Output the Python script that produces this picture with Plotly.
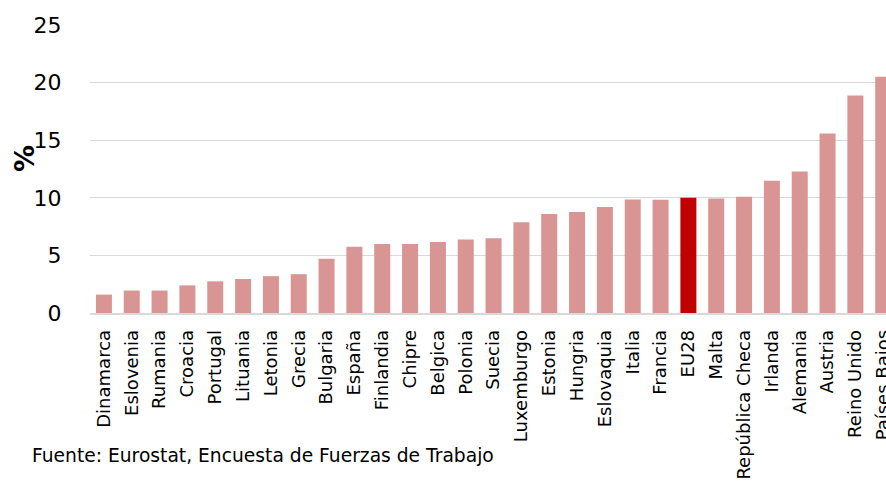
import plotly.graph_objects as go

countries = ["Dinamarca", "Eslovenia", "Rumania", "Croacia", "Portugal", "Lituania",
             "Letonia", "Grecia", "Bulgaria", "España", "Finlandia", "Chipre", "Belgica",
             "Polonia", "Suecia", "Luxemburgo", "Estonia", "Hungria", "Eslovaquia",
             "Italia", "Francia", "EU28", "Malta", "República Checa", "Irlanda",
             "Alemania", "Austria", "Reino Unido", "Países Bajos"]
values = [1.6, 1.95, 1.95, 2.4, 2.75, 2.95, 3.2, 3.37, 4.7, 5.75, 5.98, 5.98, 6.17,
          6.37, 6.48, 7.87, 8.6, 8.77, 9.2, 9.85, 9.83, 10.0, 9.95, 10.1, 11.48,
          12.28, 15.58, 18.88, 20.5]
highlight = "EU28"
y_ticks = [0, 5, 10, 15, 20, 25]

FONT = "DejaVu Sans"
colors = ["#C00000" if c == highlight else "#D99594" for c in countries]

W, H = 886, 482
L, T, R = 90, 24.7, 0
B = H - 313.3

fig = go.Figure(go.Bar(
    x=countries, y=values, marker=dict(color=colors, line=dict(width=0)),
    width=0.575,
))

fig.update_layout(
    width=W, height=H,
    margin=dict(l=L, r=R, t=T, b=B, pad=0),
    plot_bgcolor="white", paper_bgcolor="white",
    showlegend=False,
    font=dict(family=FONT, color="#000000"),
    xaxis=dict(
        type="category", range=[-0.5, 28.1], tickangle=-90, automargin=False,
        tickfont=dict(size=18, family=FONT, color="#000000"),
        ticks="outside", ticklen=8, tickcolor="rgba(0,0,0,0)",
        showline=True, linecolor="#D9D9D9", linewidth=1.5,
        showgrid=False,
    ),
    yaxis=dict(
        range=[0, 25], tickvals=y_ticks, automargin=False,
        tickfont=dict(size=22, family=FONT, color="#000000"),
        ticks="outside", ticklen=23, tickcolor="rgba(0,0,0,0)",
        showgrid=True, gridcolor="#D9D9D9", gridwidth=1.3,
        zeroline=False, showline=False,
    ),
    annotations=[
        dict(text="<b>%</b>", x=24, y=159, xref="paper", yref="paper",
             showarrow=False, textangle=-90, font=dict(size=27, family=FONT, color="#000000"),
             xanchor="center", yanchor="middle"),
        dict(text="Fuente: Eurostat, Encuesta de Fuerzas de Trabajo", x=30, y=456,
             xref="paper", yref="paper", showarrow=False,
             font=dict(size=18.7, family=FONT, color="#000000"),
             xanchor="left", yanchor="middle"),
    ],
)

# convert window pixel positions for annotations to paper coordinates
pw, ph = W - L - R, H - T - B
for a in fig.layout.annotations:
    px, py = a.x, a.y
    a.x = (px - L) / pw
    a.y = (H - B - py) / ph

fig.write_html(
    "out.html",
    config={"displayModeBar": False},
    post_script="document.body.style.margin='0';document.documentElement.style.overflow='hidden';",
)
